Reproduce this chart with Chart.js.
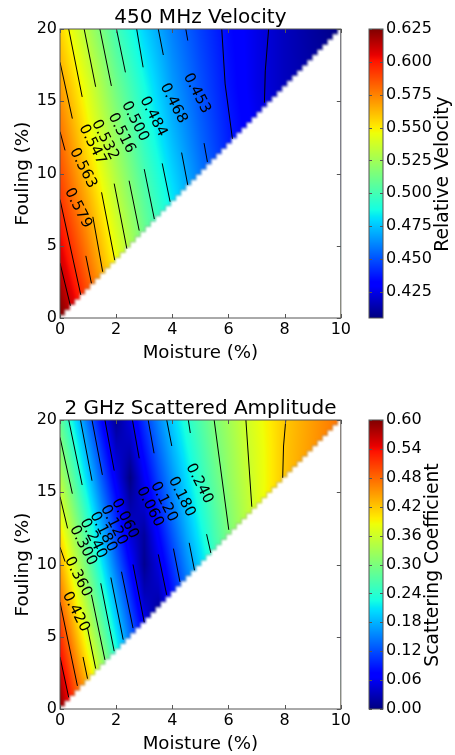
<!DOCTYPE html>
<html>
<head>
<meta charset="utf-8">
<title>Velocity and scattered amplitude</title>
<script src="https://cdn.jsdelivr.net/npm/chart.js@4/dist/chart.umd.min.js"></script>
<style>
html,body{margin:0;padding:0;background:#fff;overflow:hidden}
#wrap{position:relative;width:455px;height:755px;overflow:hidden}
canvas{position:absolute;display:block;filter:blur(.35px)}
</style>
</head>
<body>
<div id="wrap">
  <canvas id="velChart" width="353" height="365" style="left:0;top:0"></canvas>
  <canvas id="velBar" width="115" height="365" style="left:340px;top:0"></canvas>
  <canvas id="scatChart" width="353" height="365" style="left:0;top:391px"></canvas>
  <canvas id="scatBar" width="115" height="365" style="left:340px;top:391px"></canvas>
</div>
<script>
// ================= DATA: 450 MHz velocity ==================
const velMoisture = [0,1,2,3,4,5,6,7,8,9,10];
const velFouling = [0,4,8,12,16,20];
const velValues = [
  [.627,.594,.560],
  [.610,.578,.546,.515,.487],
  [.594,.565,.534,.506,.483,.462,.445],
  [.582,.551,.523,.496,.474,.455,.439,.428,.420],
  [.569,.541,.512,.488,.466,.450,.436,.425,.417,.412,.408],
  [.556,.528,.500,.478,.460,.446,.434,.425,.417,.411,.406]
];
const velTicks = [.625,.6,.575,.55,.525,.5,.475,.45,.425];
const velRange = [.405,.625];
const velContours = [
  [[0,3.8],[.37,.85]],
  [[0,8.2],[.74,1.6]],
  [[0,12.9],[.18,11.6]], [[.92,4.3],[1.12,2.4]],
  [[0,17.7],[.44,13.8]], [[1.17,7.0],[1.52,3.2]],
  [[.31,20],[.79,15.3]], [[1.48,8.7],[1.95,4]],
  [[.86,20],[1.27,16]], [[1.93,9.3],[2.38,4.8]],
  [[1.42,20],[1.83,16.06]], [[2.46,9.5],[2.82,6.05]],
  [[2.01,20],[2.33,17]], [[3,10.3],[3.36,6.85]],
  [[2.73,20],[2.96,17.35]], [[3.64,10.7],[3.92,8.05]],
  [[3.5,20],[3.68,18.2]], [[4.33,11.45],[4.55,9.2]],
  [[4.48,20],[4.55,19.2]], [[5.13,12.1],[5.25,10.8]],
  [[5.76,20],[5.88,16.2],[6.14,12.4]],
  [[7.43,20],[7.31,17.1],[7.28,14.9]]
];
const velLabels = ["0.453","0.468","0.484","0.500","0.516","0.532","0.547","0.563","0.579"];
const velLabelX = [4.87,4.04,3.32,2.67,2.19,1.6,1.15,.82,.64];
const velLabelY = [15.55,14.86,13.94,13.6,12.8,12.33,12,10.37,7.6];

// ================= DATA: 2 GHz scattered amplitude ==================
const scatMoisture = [0,.5,1,1.5,2,2.5,3,3.5,4,4.5,5,5.5,6,6.5,7,7.5,8,8.5,9,9.5,10];
const scatFouling = [0,2,4,6,8,10,12,14,16,18,20];
const scatValues = [
  [.600,.520,.445],
  [.570,.490,.423,.340,.260],
  [.534,.460,.384,.310,.230,.155,.080],
  [.505,.428,.350,.275,.200,.127,.060,.005,.060],
  [.470,.394,.318,.243,.170,.100,.030,.030,.083,.135,.180],
  [.440,.360,.287,.213,.140,.073,.009,.050,.104,.155,.200,.245,.286],
  [.406,.330,.257,.184,.113,.047,.015,.072,.125,.174,.217,.260,.298,.333,.366],
  [.372,.300,.229,.155,.087,.022,.040,.094,.146,.190,.232,.270,.306,.338,.370,.397,.424],
  [.340,.270,.198,.126,.060,.002,.062,.116,.163,.205,.246,.281,.315,.344,.370,.395,.420,.437,.452],
  [.310,.241,.170,.100,.035,.028,.084,.135,.180,.220,.256,.291,.320,.349,.372,.395,.420,.435,.449,.463,.477],
  [.283,.213,.140,.073,.011,.050,.105,.153,.196,.235,.268,.300,.327,.354,.376,.397,.418,.433,.447,.461,.475]
];
const scatTicks = [.6,.54,.48,.42,.36,.3,.24,.18,.12,.06,0];
const scatRange = [0,.6];
const scatContours = [
  [[0,3.6],[.31,.8]],
  [[0,7.4],[.62,1.6]],
  [[0,11.2],[.18,10.2]], [[.82,3.6],[.98,2.1]],
  [[0,14.7],[.27,12.5]], [[.98,5.6],[1.27,2.8]],
  [[0,18.8],[.44,14.9]], [[1.12,7.9],[1.6,3.4]],
  [[.31,20],[.79,15.5]], [[1.45,8.7],[1.93,4]],
  [[.73,20],[1.14,15.8]], [[1.81,9.1],[2.25,4.8]],
  [[1.14,20],[1.51,16.2]], [[2.19,9.5],[2.6,5.6]],
  [[1.6,20],[1.93,16.5]], [[2.6,10],[3,6]],
  [[2.58,20],[2.82,17.35]], [[3.5,10.7],[3.8,7.9]],
  [[3.14,20],[3.35,17.7]], [[4.04,11.1],[4.27,8.8]],
  [[3.8,20],[3.98,18.2]], [[4.6,11.5],[4.79,9.6]],
  [[4.57,20],[4.64,19.1]], [[5.22,12.1],[5.37,10.8]],
  [[5.49,20],[6.01,12.4]],
  [[6.62,20],[6.83,14]],
  [[8.04,20],[7.96,18.2],[7.93,16]]
];
const scatLabels = ["0.240","0.180","0.120","0.060","0.060","0.120","0.180","0.240","0.300","0.360","0.420"];
const scatLabelX = [4.96,4.33,3.7,3.2,2.31,1.92,1.54,1.18,.82,.64,.56];
const scatLabelY = [15.6,14.68,14.33,13.99,13.18,12.72,12.26,11.8,11.3,9.15,6.73];

const moistureTicks = [0,2,4,6,8,10];
const foulingTicks = [0,5,10,15,20];

const FONT = "'DejaVu Sans'";
const FRAME = "#555";

// ================= COLOURS ==================
function ramp(t, pts){
  for(let i=1;i<pts.length;i++){
    if(t<=pts[i][0]){
      let a=pts[i-1], b=pts[i];
      return a[1]+(b[1]-a[1])*(t-a[0])/(b[0]-a[0]);
    }
  }
  return pts[pts.length-1][1];
}
function jet(t){
  t=Math.max(0,Math.min(1,t));
  return [
    255*ramp(t,[[0,0],[.35,0],[.66,1],[.89,1],[1,.5]]),
    255*ramp(t,[[0,0],[.125,0],[.375,1],[.64,1],[.91,0],[1,0]]),
    255*ramp(t,[[0,.5],[.11,1],[.34,1],[.65,0],[1,0]])
  ];
}

// look up the field between the read nodes, same job as imshow's interpolation
function fieldAt(xs, ys, rows, x, y){
  let j=0, i=0;
  while(j<xs.length-2 && x>xs[j+1]) j++;
  while(i<ys.length-2 && y>ys[i+1]) i++;
  let tx=(x-xs[j])/(xs[j+1]-xs[j]);
  let ty=(y-ys[i])/(ys[i+1]-ys[i]);
  let node=(r,c)=>rows[r][Math.min(c,rows[r].length-1)];
  let low=node(i,j)+(node(i,j+1)-node(i,j))*tx;
  let high=node(i+1,j)+(node(i+1,j+1)-node(i+1,j))*tx;
  return low+(high-low)*ty;
}

// ================= PLUGINS ==================
const heatPlugin = {
  id:"heat",
  beforeDatasetsDraw(chart,args,o){
    const {ctx,chartArea:a,scales:{x,y}} = chart;
    let w=Math.round(a.right-a.left), h=Math.round(a.bottom-a.top);
    let off=document.createElement("canvas");
    off.width=w; off.height=h;
    let oc=off.getContext("2d");
    let img=oc.createImageData(w,h);
    for(let py=0;py<h;py++){
      let fy=y.getValueForPixel(a.top+py+.5);
      for(let px=0;px<w;px++){
        let fx=x.getValueForPixel(a.left+px+.5);
        let c=jet((fieldAt(o.xs,o.ys,o.rows,fx,fy)-o.range[0])/(o.range[1]-o.range[0]));
        let k=(py*w+px)*4;
        img.data[k]=c[0]; img.data[k+1]=c[1]; img.data[k+2]=c[2]; img.data[k+3]=255;
      }
    }
    oc.putImageData(img,0,0);
    ctx.save();
    ctx.beginPath();
    ctx.rect(a.left,a.top,a.right-a.left,a.bottom-a.top);
    ctx.clip();
    ctx.drawImage(off,a.left,a.top);
    // the empty corner, with the stepped soft edge of the original image
    ctx.filter="blur(.8px)";
    ctx.beginPath();
    ctx.moveTo(x.getPixelForValue(0),y.getPixelForValue(0));
    for(let m=0;m<10;m+=.18){
      ctx.lineTo(x.getPixelForValue(m),y.getPixelForValue(m*2+.18));
      ctx.lineTo(x.getPixelForValue(m+.18),y.getPixelForValue(m*2+.18));
    }
    ctx.lineTo(x.getPixelForValue(10),y.getPixelForValue(20));
    ctx.strokeStyle="rgba(150,150,150,.6)";
    ctx.lineWidth=1.5;
    ctx.stroke();
    ctx.lineTo(a.right+9,a.top-9);
    ctx.lineTo(a.right+9,a.bottom+9);
    ctx.lineTo(a.left-9,a.bottom+9);
    ctx.closePath();
    ctx.fillStyle="#fff";
    ctx.fill();
    ctx.restore();
  }
};

const framePlugin = {
  id:"frame",
  afterDatasetsDraw(chart,args,o){
    const {ctx,chartArea:a,scales:{x,y}} = chart;
    ctx.save();
    ctx.fillStyle="#000";
    ctx.font="15px "+FONT;
    ctx.textAlign="center";
    ctx.textBaseline="middle";
    o.labels.forEach((t,i)=>{
      ctx.save();
      ctx.translate(x.getPixelForValue(o.labelX[i]),y.getPixelForValue(o.labelY[i]));
      ctx.rotate(o.angle*Math.PI/180);
      ctx.fillText(t,0,0);
      ctx.restore();
    });
    ctx.strokeStyle=FRAME;
    ctx.lineWidth=1;
    ctx.beginPath();
    x.ticks.forEach((t,i)=>{
      let p=Math.round(x.getPixelForTick(i))+.5;
      ctx.moveTo(p,a.top); ctx.lineTo(p,a.top+4);
      ctx.moveTo(p,a.bottom); ctx.lineTo(p,a.bottom-4);
    });
    y.ticks.forEach((t,i)=>{
      let p=Math.round(y.getPixelForTick(i))+.5;
      ctx.moveTo(a.left,p); ctx.lineTo(a.left+4,p);
      ctx.moveTo(a.right,p); ctx.lineTo(a.right-4,p);
    });
    ctx.stroke();
    ctx.strokeRect(a.left,a.top,a.right-a.left,a.bottom-a.top);
    ctx.restore();
  }
};

const barPlugin = {
  id:"bar",
  afterDatasetsDraw(chart,args,o){
    const {ctx,chartArea:a,scales:{y}} = chart;
    ctx.save();
    for(let p=Math.floor(a.top);p<a.bottom;p++){
      let c=jet((y.getValueForPixel(p+.5)-o.range[0])/(o.range[1]-o.range[0]));
      ctx.fillStyle="rgb("+c.map(Math.round).join(",")+")";
      ctx.fillRect(a.left,p,a.right-a.left,1);
    }
    ctx.strokeStyle=FRAME;
    ctx.lineWidth=1;
    ctx.beginPath();
    y.ticks.forEach((t,i)=>{
      let p=Math.round(y.getPixelForTick(i))+.5;
      ctx.moveTo(a.right,p); ctx.lineTo(a.right-3,p);
      ctx.moveTo(a.left,p); ctx.lineTo(a.left+3,p);
    });
    ctx.stroke();
    ctx.strokeRect(a.left,a.top,a.right-a.left,a.bottom-a.top);
    // chart.js turns a right hand axis title the other way round, so it goes here
    ctx.fillStyle="#000";
    ctx.font="18.8px "+FONT;
    ctx.textAlign="center";
    ctx.textBaseline="middle";
    ctx.translate(o.titleX,o.titleY);
    ctx.rotate(-Math.PI/2);
    ctx.fillText(o.title,0,0);
    ctx.restore();
  }
};

// ================= CHARTS ==================
function contourSets(list){
  return list.map(seg=>({
    data:seg.map(p=>({x:p[0],y:p[1]})),
    showLine:true,
    borderColor:"#000",
    borderWidth:1,
    pointRadius:0,
    tension:0
  }));
}

function fixedTicks(values){
  return scale=>{ scale.ticks = values.map(v=>({value:v})); };
}

function makeField(id,title,xs,ys,rows,range,contours,labels,labelX,labelY){
  return new Chart(document.getElementById(id),{
    type:"scatter",
    data:{datasets:contourSets(contours)},
    plugins:[heatPlugin,framePlugin],
    options:{
      responsive:false,
      animation:false,
      layout:{padding:0},
      plugins:{
        legend:{display:false},
        tooltip:{enabled:false},
        title:{
          display:true,
          text:title,
          color:"#000",
          font:{family:FONT,size:20,weight:"normal",lineHeight:1.1},
          padding:{top:7,bottom:0},
          fullSize:false
        },
        heat:{xs,ys,rows,range},
        frame:{labels,labelX,labelY,angle:63}
      },
      scales:{
        x:{
          type:"linear",min:0,max:10,
          afterBuildTicks:fixedTicks(moistureTicks),
          afterFit(s){ s.height=47; },
          grid:{display:false,drawTicks:false},
          border:{display:false},
          ticks:{color:"#000",font:{family:FONT,size:16},padding:2,maxRotation:0,autoSkip:false},
          title:{display:true,text:"Moisture (%)",color:"#000",font:{family:FONT,size:18.2,lineHeight:1.2},padding:{top:0,bottom:1}}
        },
        y:{
          type:"linear",min:0,max:20,
          afterBuildTicks:fixedTicks(foulingTicks),
          afterFit(s){ s.width=60; },
          grid:{display:false,drawTicks:false},
          border:{display:false},
          ticks:{color:"#000",font:{family:FONT,size:16},padding:3,autoSkip:false},
          title:{display:true,text:"Fouling (%)",color:"#000",font:{family:FONT,size:18.4,lineHeight:1.2},padding:{top:12,bottom:0}}
        }
      }
    }
  });
}

function makeBar(id,title,titleX,ticks,range,decimals){
  return new Chart(document.getElementById(id),{
    type:"scatter",
    data:{datasets:[]},
    plugins:[barPlugin],
    options:{
      responsive:false,
      animation:false,
      layout:{padding:{top:29,left:29,bottom:47}},
      plugins:{
        legend:{display:false},
        tooltip:{enabled:false},
        bar:{range,title,titleX,titleY:174}
      },
      scales:{
        x:{display:false,type:"linear",min:0,max:1},
        y:{
          position:"right",
          type:"linear",min:range[0],max:range[1],
          afterBuildTicks:fixedTicks(ticks),
          afterFit(s){ s.width=72; },
          grid:{display:false,drawTicks:false},
          border:{display:false},
          ticks:{
            color:"#000",font:{family:FONT,size:16},padding:3,autoSkip:false,
            callback:v=>v.toFixed(decimals)
          }
        }
      }
    }
  });
}

makeField("velChart","450 MHz Velocity",velMoisture,velFouling,velValues,velRange,velContours,velLabels,velLabelX,velLabelY);
makeField("scatChart","2 GHz Scattered Amplitude",scatMoisture,scatFouling,scatValues,scatRange,scatContours,scatLabels,scatLabelX,scatLabelY);
makeBar("velBar","Relative Velocity",103,velTicks,velRange,3);
makeBar("scatBar","Scattering Coefficient",93,scatTicks,scatRange,2);
</script>
</body>
</html>
